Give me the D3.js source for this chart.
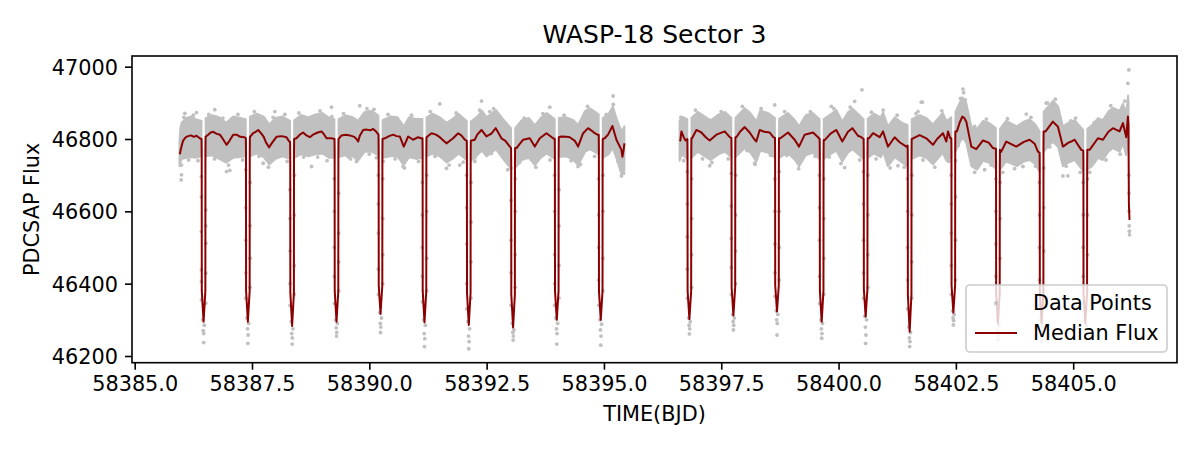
<!DOCTYPE html>
<html><head><meta charset="utf-8">
<script src="https://cdn.jsdelivr.net/npm/d3@7"></script>
<style>
body{margin:0;background:#fff}
svg{display:block}
text{font-family:"DejaVu Sans",sans-serif;fill:#000}
</style>
</head><body>
<svg id="c" width="1200" height="450"></svg>
<script>
// ---------------- data ----------------
const titleText = "WASP-18 Sector 3";
const xLabelText = "TIME(BJD)";
const yLabelText = "PDCSAP Flux";
const xTickValues = [58385.0, 58387.5, 58390.0, 58392.5, 58395.0, 58397.5, 58400.0, 58402.5, 58405.0];
const yTickValues = [46200, 46400, 46600, 46800, 47000];
const legendLabels = ["Data Points", "Median Flux"];

// median flux line [time, flux]; null marks the data gap
const medianFlux = [
[58385.963,46758],[58385.980,46770],[58385.998,46779],[58386.030,46795],[58386.069,46802],[58386.100,46806],[58386.140,46808],[58386.200,46810],[58386.260,46806],[58386.318,46809],[58386.360,46805],[58386.400,46801],
[58386.425,46800],[58386.428,46760],[58386.430,46380],[58386.468,46295],[58386.506,46380],[58386.508,46770],[58386.511,46806],
[58386.566,46812],[58386.620,46818],[58386.673,46820],[58386.740,46815],[58386.815,46812],[58386.880,46800],[58386.957,46784],[58387.020,46795],[58387.099,46812],[58387.170,46812],[58387.250,46806],[58387.340,46805],
[58387.369,46802],[58387.372,46762],[58387.374,46380],[58387.412,46295],[58387.450,46380],[58387.452,46765],[58387.455,46805],
[58387.525,46816],[58387.580,46820],[58387.632,46825],[58387.700,46815],[58387.750,46806],[58387.800,46790],[58387.866,46777],[58387.930,46790],[58388.022,46806],[58388.130,46808],[58388.235,46805],[58388.292,46793],
[58388.312,46792],[58388.315,46752],[58388.317,46375],[58388.355,46283],[58388.393,46375],[58388.395,46760],[58388.398,46800],
[58388.448,46802],[58388.520,46812],[58388.590,46818],[58388.660,46810],[58388.732,46805],[58388.800,46812],[58388.900,46818],[58388.981,46821],[58389.040,46812],[58389.087,46802],[58389.194,46802],
[58389.258,46800],[58389.261,46760],[58389.263,46380],[58389.301,46295],[58389.339,46380],[58389.341,46760],[58389.344,46800],
[58389.407,46810],[58389.500,46812],[58389.585,46810],[58389.680,46806],[58389.727,46800],[58389.762,46793],[58389.800,46810],[58389.869,46825],[58389.950,46826],[58390.020,46824],[58390.082,46828],[58390.150,46820],
[58390.196,46812],[58390.199,46772],[58390.201,46395],[58390.239,46316],[58390.277,46395],[58390.279,46760],[58390.282,46800],
[58390.331,46802],[58390.420,46808],[58390.508,46812],[58390.580,46808],[58390.650,46807],[58390.735,46779],[58390.828,46807],[58390.934,46798],[58391.041,46805],[58391.100,46802],
[58391.133,46802],[58391.136,46762],[58391.138,46380],[58391.176,46293],[58391.214,46380],[58391.216,46765],[58391.219,46805],
[58391.325,46816],[58391.420,46812],[58391.502,46805],[58391.644,46788],[58391.786,46802],[58391.893,46816],[58391.960,46810],[58392.035,46798],
[58392.077,46795],[58392.080,46755],[58392.082,46375],[58392.120,46286],[58392.158,46375],[58392.160,46755],[58392.163,46795],
[58392.248,46798],[58392.300,46812],[58392.390,46825],[58392.496,46807],[58392.600,46815],[58392.695,46830],[58392.816,46802],[58392.900,46795],[58392.994,46779],
[58393.021,46775],[58393.024,46735],[58393.026,46370],[58393.064,46279],[58393.102,46370],[58393.104,46735],[58393.107,46775],
[58393.136,46775],[58393.278,46798],[58393.420,46802],[58393.526,46779],[58393.633,46802],[58393.775,46816],[58393.917,46802],
[58393.952,46800],[58393.955,46760],[58393.957,46380],[58393.995,46300],[58394.033,46380],[58394.035,46765],[58394.038,46805],
[58394.094,46807],[58394.200,46806],[58394.272,46805],[58394.380,46795],[58394.449,46779],[58394.556,46816],[58394.662,46830],[58394.750,46822],[58394.804,46816],[58394.860,46812],
[58394.889,46812],[58394.892,46772],[58394.894,46380],[58394.932,46300],[58394.970,46380],[58394.972,46760],[58394.975,46800],
[58395.017,46802],[58395.088,46812],[58395.181,46836],[58395.266,46798],[58395.372,46770],[58395.394,46751],[58395.420,46770],[58395.436,46788],
null,
[58396.615,46798],[58396.629,46796],[58396.651,46821],[58396.700,46805],[58396.740,46796],
[58396.778,46800],[58396.781,46760],[58396.783,46380],[58396.821,46302],[58396.859,46380],[58396.861,46762],[58396.864,46802],
[58396.878,46802],[58396.970,46825],[58397.077,46818],[58397.170,46805],[58397.254,46796],[58397.396,46812],[58397.574,46821],[58397.680,46805],
[58397.716,46803],[58397.719,46763],[58397.721,46390],[58397.759,46312],[58397.797,46390],[58397.799,46765],[58397.802,46805],
[58397.822,46805],[58397.900,46820],[58398.000,46833],[58398.106,46818],[58398.200,46800],[58398.248,46793],[58398.319,46825],[58398.420,46820],[58398.532,46818],[58398.610,46805],
[58398.645,46803],[58398.648,46763],[58398.650,46395],[58398.688,46323],[58398.726,46395],[58398.728,46762],[58398.731,46802],
[58398.760,46802],[58398.923,46818],[58399.065,46798],[58399.157,46779],[58399.278,46812],[58399.456,46818],[58399.562,46805],
[58399.597,46800],[58399.600,46760],[58399.602,46380],[58399.640,46295],[58399.678,46380],[58399.680,46757],[58399.683,46797],
[58399.704,46797],[58399.830,46815],[58399.953,46825],[58400.080,46793],[58400.200,46820],[58400.294,46830],[58400.414,46809],[58400.485,46805],
[58400.534,46800],[58400.537,46760],[58400.539,46385],[58400.577,46309],[58400.615,46385],[58400.617,46762],[58400.620,46802],
[58400.649,46802],[58400.734,46816],[58400.876,46805],[58400.947,46821],[58401.053,46779],[58401.195,46805],[58401.302,46791],[58401.444,46779],
[58401.472,46782],[58401.475,46742],[58401.477,46370],[58401.515,46267],[58401.553,46370],[58401.555,46760],[58401.558,46800],
[58401.586,46802],[58401.728,46811],[58401.870,46802],[58402.012,46784],[58402.100,46800],[58402.225,46816],[58402.296,46793],[58402.332,46821],[58402.380,46802],
[58402.403,46802],[58402.406,46762],[58402.408,46395],[58402.446,46320],[58402.484,46395],[58402.486,46780],[58402.489,46821],
[58402.523,46821],[58402.580,46845],[58402.637,46862],[58402.680,46858],[58402.722,46848],[58402.829,46779],[58402.935,46772],[58403.077,46796],[58403.200,46790],[58403.290,46775],
[58403.353,46773],[58403.356,46733],[58403.358,46375],[58403.396,46290],[58403.434,46375],[58403.436,46730],[58403.439,46770],
[58403.468,46765],[58403.574,46793],[58403.787,46779],[58403.950,46792],[58404.071,46798],[58404.178,46787],[58404.249,46765],
[58404.284,46762],[58404.287,46722],[58404.289,46375],[58404.327,46290],[58404.365,46375],[58404.367,46780],[58404.370,46821],
[58404.412,46821],[58404.568,46848],[58404.675,46834],[58404.781,46779],[58404.900,46790],[58404.959,46793],[58405.030,46798],[58405.172,46770],
[58405.215,46768],[58405.218,46728],[58405.220,46375],[58405.258,46290],[58405.296,46375],[58405.298,46730],[58405.301,46770],
[58405.350,46770],[58405.527,46802],[58405.634,46798],[58405.750,46820],[58405.847,46830],[58405.989,46821],[58406.060,46844],[58406.131,46805],[58406.166,46862],[58406.178,46840],[58406.187,46620],[58406.200,46576]
];

// dense cloud of data points outside transits: [time, lower edge, upper edge]; null = break
const pointCloud = [
[58385.955,46725,46795],[58385.975,46735,46830],[58386.000,46745,46845],[58386.100,46748,46858],[58386.200,46750,46862],[58386.300,46748,46855],[58386.423,46752,46850],null,
[58386.513,46752,46858],[58386.650,46755,46866],[58386.800,46745,46860],[58386.950,46735,46845],[58387.100,46748,46862],[58387.250,46750,46858],[58387.367,46752,46855],null,
[58387.457,46752,46862],[58387.600,46760,46870],[58387.750,46750,46862],[58387.870,46730,46840],[58388.000,46745,46858],[58388.150,46752,46862],[58388.310,46745,46850],null,
[58388.400,46748,46852],[58388.550,46758,46866],[58388.700,46752,46860],[58388.850,46758,46868],[58389.000,46760,46872],[58389.150,46748,46858],[58389.256,46748,46855],null,
[58389.346,46750,46855],[58389.500,46755,46865],[58389.650,46752,46860],[58389.760,46740,46850],[58389.900,46765,46875],[58390.050,46765,46878],[58390.194,46755,46865],null,
[58390.284,46748,46852],[58390.450,46752,46862],[58390.600,46752,46860],[58390.735,46728,46835],[58390.850,46750,46860],[58391.000,46745,46855],[58391.131,46748,46855],null,
[58391.221,46752,46860],[58391.350,46760,46870],[58391.500,46752,46860],[58391.650,46735,46845],[58391.800,46748,46858],[58391.900,46760,46870],[58392.075,46742,46850],null,
[58392.165,46740,46848],[58392.300,46755,46862],[58392.400,46768,46878],[58392.500,46752,46860],[58392.700,46772,46880],[58392.850,46745,46855],[58393.019,46718,46830],null,
[58393.109,46720,46830],[58393.250,46742,46852],[58393.400,46748,46858],[58393.530,46728,46838],[58393.650,46748,46858],[58393.780,46760,46872],[58393.950,46745,46855],null,
[58394.040,46750,46858],[58394.200,46752,46860],[58394.350,46742,46852],[58394.450,46728,46838],[58394.600,46765,46878],[58394.700,46772,46885],[58394.887,46758,46868],null,
[58394.977,46748,46858],[58395.100,46758,46870],[58395.190,46775,46890],[58395.280,46742,46852],[58395.380,46700,46820],[58395.436,46715,46835],null,
[58396.612,46740,46850],[58396.660,46758,46862],[58396.776,46745,46855],null,
[58396.866,46748,46858],[58397.000,46765,46875],[58397.150,46752,46862],[58397.270,46742,46852],[58397.450,46758,46868],[58397.580,46765,46875],[58397.714,46750,46858],null,
[58397.804,46750,46858],[58398.000,46775,46885],[58398.120,46762,46872],[58398.250,46738,46848],[58398.330,46768,46878],[58398.500,46762,46872],[58398.643,46748,46858],null,
[58398.733,46748,46856],[58398.920,46762,46872],[58399.070,46742,46852],[58399.160,46725,46835],[58399.300,46755,46866],[58399.450,46762,46872],[58399.595,46745,46855],null,
[58399.685,46745,46855],[58399.830,46758,46868],[58399.950,46768,46880],[58400.080,46738,46848],[58400.200,46762,46874],[58400.300,46772,46884],[58400.532,46745,46855],null,
[58400.622,46748,46856],[58400.750,46760,46870],[58400.900,46750,46860],[58400.950,46765,46874],[58401.050,46725,46835],[58401.200,46750,46860],[58401.350,46735,46845],[58401.470,46725,46838],null,
[58401.560,46745,46855],[58401.730,46755,46866],[58401.870,46748,46858],[58402.010,46730,46840],[58402.220,46762,46872],[58402.300,46740,46850],[58402.401,46748,46860],null,
[58402.491,46765,46875],[58402.580,46790,46900],[58402.640,46805,46915],[58402.720,46790,46900],[58402.830,46725,46835],[58402.950,46715,46828],[58403.080,46740,46850],[58403.200,46735,46845],[58403.351,46718,46830],null,
[58403.441,46715,46828],[58403.570,46738,46850],[58403.800,46725,46835],[58403.950,46738,46848],[58404.070,46742,46854],[58404.180,46732,46842],[58404.282,46710,46822],null,
[58404.372,46765,46875],[58404.500,46785,46895],[58404.570,46792,46905],[58404.680,46778,46890],[58404.780,46725,46835],[58404.900,46735,46845],[58405.030,46742,46852],[58405.213,46712,46825],null,
[58405.303,46715,46828],[58405.400,46725,46838],[58405.530,46748,46858],[58405.630,46742,46852],[58405.750,46765,46876],[58405.850,46775,46886],[58405.990,46765,46878],[58406.060,46788,46898],[58406.130,46755,46870],[58406.170,46800,46920],[58406.180,46790,46900]
];

// mid-transit times read from the dips
const transitTimes = [58386.468,58387.412,58388.355,58389.301,58390.239,58391.176,58392.120,58393.064,58393.995,58394.932,
58396.821,58397.759,58398.688,58399.640,58400.577,58401.515,58402.446,58403.396,58404.327,58405.258];

// in-transit data points per transit: [offset from mid-transit (days), flux]
const transitPoints = [
[[-0.047,46696],[-0.047,46640],[-0.046,46544],[-0.046,46438],[-0.046,46406],[-0.045,46355],[0.048,46604],[0.048,46560],[0.048,46512],[0.047,46429],[0.046,46346],[-0.02,46300],[-0.008,46270],[0.004,46262],[0.015,46285],[0.002,46237]],
[[-0.047,46715],[-0.046,46610],[-0.046,46520],[-0.045,46430],[-0.045,46360],[0.048,46680],[0.048,46560],[0.047,46470],[0.046,46390],[-0.018,46305],[-0.006,46275],[0.006,46258],[0.018,46290],[0.0,46235]],
[[-0.047,46660],[-0.046,46580],[-0.046,46490],[-0.045,46400],[-0.044,46340],[0.048,46700],[0.048,46590],[0.047,46450],[0.046,46370],[-0.02,46295],[-0.008,46262],[0.004,46250],[0.016,46275],[0.001,46233]],
[[-0.047,46690],[-0.046,46600],[-0.046,46500],[-0.045,46420],[-0.044,46345],[0.048,46650],[0.047,46540],[0.047,46460],[0.046,46380],[-0.018,46300],[-0.006,46278],[0.006,46265],[0.018,46290],[0.0,46255]],
[[-0.047,46700],[-0.046,46620],[-0.046,46540],[-0.045,46440],[-0.044,46370],[0.048,46690],[0.048,46580],[0.047,46480],[0.046,46400],[-0.018,46320],[-0.006,46290],[0.006,46280],[0.018,46305],[0.0,46265]],
[[-0.047,46680],[-0.046,46590],[-0.046,46500],[-0.045,46420],[-0.044,46350],[0.048,46700],[0.048,46600],[0.047,46470],[0.046,46380],[-0.018,46300],[-0.006,46262],[0.006,46248],[0.018,46285],[0.0,46226]],
[[-0.047,46700],[-0.046,46610],[-0.046,46510],[-0.045,46400],[-0.044,46330],[0.048,46680],[0.048,46570],[0.047,46460],[0.046,46360],[-0.018,46295],[-0.006,46255],[0.006,46240],[0.018,46275],[0.0,46220]],
[[-0.047,46720],[-0.046,46630],[-0.046,46520],[-0.045,46430],[-0.044,46340],[0.048,46690],[0.048,46600],[0.047,46480],[0.046,46390],[-0.018,46290],[-0.006,46265],[0.006,46255],[0.018,46272],[0.0,46244]],
[[-0.047,46700],[-0.046,46600],[-0.046,46480],[-0.045,46400],[-0.044,46340],[0.048,46660],[0.048,46560],[0.047,46450],[0.046,46360],[-0.018,46305],[-0.006,46275],[0.006,46262],[0.018,46290],[0.0,46233]],
[[-0.047,46690],[-0.046,46590],[-0.046,46500],[-0.045,46410],[-0.044,46340],[0.048,46700],[0.048,46600],[0.047,46470],[0.046,46380],[-0.018,46300],[-0.006,46272],[0.006,46255],[0.018,46288],[0.0,46230]],
[[-0.047,46710],[-0.046,46620],[-0.046,46530],[-0.045,46440],[-0.044,46360],[0.048,46690],[0.048,46580],[0.047,46480],[0.046,46390],[-0.018,46305],[-0.006,46285],[0.006,46275],[0.018,46295],[0.0,46261]],
[[-0.047,46705],[-0.046,46615],[-0.046,46525],[-0.045,46445],[-0.044,46370],[0.048,46700],[0.048,46590],[0.047,46490],[0.046,46400],[-0.018,46315],[-0.006,46295],[0.006,46285],[0.018,46305],[0.0,46272]],
[[-0.047,46690],[-0.046,46600],[-0.046,46510],[-0.045,46430],[-0.044,46365],[0.048,46710],[0.048,46600],[0.047,46500],[0.046,46410],[-0.018,46325],[-0.006,46300],[0.006,46290],[0.018,46315],[0.0,46258]],
[[-0.047,46700],[-0.046,46610],[-0.046,46520],[-0.045,46420],[-0.044,46345],[0.048,46690],[0.048,46580],[0.047,46470],[0.046,46370],[-0.018,46300],[-0.006,46275],[0.006,46262],[0.018,46290],[0.0,46249]],
[[-0.047,46710],[-0.046,46620],[-0.046,46520],[-0.045,46430],[-0.044,46360],[0.048,46700],[0.048,46590],[0.047,46480],[0.046,46390],[-0.018,46310],[-0.006,46280],[0.006,46258],[0.018,46300],[0.0,46235]],
[[-0.047,46690],[-0.046,46600],[-0.046,46500],[-0.045,46410],[-0.044,46330],[0.048,46700],[0.048,46590],[0.047,46460],[0.046,46360],[-0.018,46280],[-0.006,46250],[0.006,46240],[0.018,46265],[0.0,46226]],
[[-0.047,46700],[-0.046,46620],[-0.046,46540],[-0.045,46450],[-0.044,46370],[0.048,46740],[0.048,46640],[0.047,46520],[0.046,46410],[-0.018,46325],[-0.006,46305],[0.006,46298],[0.018,46315],[0.0,46286]],
[[-0.047,46690],[-0.046,46600],[-0.046,46510],[-0.045,46420],[-0.044,46340],[0.048,46680],[0.048,46580],[0.047,46470],[0.046,46370],[-0.018,46300],[-0.006,46270],[0.006,46258],[0.018,46285],[0.0,46245]],
[[-0.047,46680],[-0.046,46590],[-0.046,46500],[-0.045,46410],[-0.044,46340],[0.048,46720],[0.048,46610],[0.047,46490],[0.046,46380],[-0.018,46300],[-0.006,46268],[0.006,46255],[0.018,46282],[0.0,46240]],
[[-0.047,46680],[-0.046,46590],[-0.046,46500],[-0.045,46420],[-0.044,46345],[0.048,46690],[0.048,46590],[0.047,46480],[0.046,46380],[-0.018,46298],[-0.006,46270],[0.006,46260],[0.018,46285],[0.0,46245]]
];

// scattered individual points (outliers, end of sector partial transit)
const loosePoints = [
[58385.998,46728],[58385.998,46701],[58385.990,46687],[58386.069,46871],[58386.318,46873],[58386.708,46881],[58386.957,46710],[58387.028,46713],[58387.987,46876],[58387.738,46733],
[58388.768,46724],[58389.194,46888],[58389.797,46892],[58389.549,46751],[58389.727,46738],[58390.295,46738],[58390.721,46724],[58391.502,46897],[58391.644,46719],[58391.928,46728],
[58392.248,46738],[58392.390,46905],[58392.567,46876],[58393.846,46888],[58394.449,46724],[58395.195,46919],[58395.372,46698],[58395.400,46710],[58397.254,46726],[58398.213,46733],
[58398.639,46894],[58399.846,46890],[58400.130,46721],[58400.343,46904],[58400.499,46936],[58401.266,46726],[58401.692,46876],[58401.763,46902],[58401.785,46902],[58402.651,46938],
[58402.665,46928],[58403.113,46715],[58403.929,46724],[58404.000,46869],[58404.426,46899],[58404.781,46698],[58404.888,46698],[58405.051,46858],[58406.166,46954],[58406.187,46991],
[58406.187,46700],[58406.190,46650],[58406.192,46600],[58406.195,46560],[58406.198,46545],[58406.200,46535]
];

// points sitting just outside the dense cloud edges
const edgePoints = [
[58386.05,46860],[58386.25,46866],[58386.15,46742],[58386.35,46740],
[58386.58,46868],[58386.88,46858],[58387.2,46868],[58386.7,46745],[58387.0,46728],[58387.3,46742],
[58387.55,46876],[58387.95,46860],[58388.2,46868],[58387.65,46752],[58387.85,46722],[58388.25,46738],
[58388.5,46872],[58388.95,46878],[58389.2,46862],[58388.6,46750],[58388.9,46750],[58389.1,46740],
[58389.45,46870],[58389.95,46884],[58390.1,46882],[58389.6,46745],[58390.0,46758],[58390.15,46748],
[58390.4,46868],[58390.9,46866],[58390.55,46745],[58390.75,46720],[58391.05,46738],
[58391.3,46876],[58391.85,46872],[58391.4,46752],[58391.7,46728],[58392.0,46736],
[58392.35,46880],[58392.65,46884],[58392.25,46748],[58392.6,46760],[58392.95,46715],
[58393.3,46858],[58393.7,46870],[58393.2,46735],[58393.55,46722],[58393.85,46742],
[58394.15,46866],[58394.65,46890],[58394.3,46740],[58394.5,46730],[58394.8,46752],
[58395.05,46868],[58395.2,46896],[58395.3,46738],[58395.42,46705],
[58396.64,46860],[58396.7,46740],
[58396.95,46880],[58397.5,46876],[58397.1,46745],[58397.3,46735],[58397.65,46745],
[58397.95,46890],[58398.35,46884],[58398.05,46768],[58398.22,46730],[58398.55,46755],
[58398.85,46876],[58399.4,46876],[58398.9,46755],[58399.15,46718],[58399.5,46752],
[58399.9,46884],[58400.25,46888],[58399.8,46750],[58400.05,46732],[58400.45,46742],
[58400.7,46874],[58400.95,46880],[58401.25,46866],[58400.8,46745],[58401.1,46720],[58401.4,46722],
[58401.65,46870],[58402.2,46878],[58401.8,46742],[58402.05,46722],[58402.35,46738],
[58402.6,46912],[58402.7,46908],[58402.9,46835],[58403.15,46855],[58402.55,46782],[58402.9,46708],[58403.25,46728],
[58403.6,46856],[58404.1,46860],[58403.5,46708],[58403.75,46718],[58404.2,46725],
[58404.45,46900],[58404.62,46910],[58404.95,46850],[58404.5,46778],[58404.85,46725],[58405.15,46708],
[58405.45,46845],[58405.8,46892],[58406.1,46905],[58405.35,46708],[58405.7,46742],[58406.0,46758]
];

// ---------------- drawing ----------------
const plot = {left: 132, right: 1177, top: 56, bottom: 362.7};
const svg = d3.select("#c");
const FS = 20.8;

const allT = [], allF = [];
medianFlux.forEach(d => { if (d) { allT.push(d[0]); allF.push(d[1]); } });
pointCloud.forEach(d => { if (d) { allT.push(d[0]); allF.push(d[1], d[2]); } });
transitPoints.forEach((arr, i) => arr.forEach(p => { allT.push(transitTimes[i] + p[0]); allF.push(p[1]); }));
loosePoints.concat(edgePoints).forEach(d => { allT.push(d[0]); allF.push(d[1]); });
const [tMin, tMax] = d3.extent(allT);
const [fMin, fMax] = d3.extent(allF);
const tPad = (tMax - tMin) * 0.05, fPad = (fMax - fMin) * 0.05;

const x = d3.scaleLinear().domain([tMin - tPad, tMax + tPad]).range([plot.left, plot.right]);
const y = d3.scaleLinear().domain([fMin - fPad, fMax + fPad]).range([plot.bottom, plot.top]);

const grey = "#c0c0c0";
const dark = "#8b0000";

svg.append("defs").append("clipPath").attr("id", "clip")
  .append("rect").attr("x", plot.left).attr("y", plot.top)
  .attr("width", plot.right - plot.left).attr("height", plot.bottom - plot.top);

const g = svg.append("g").attr("clip-path", "url(#clip)");

const cloudArea = d3.area().defined(d => d !== null)
  .x(d => x(d[0])).y0(d => y(d[1])).y1(d => y(d[2]));
g.append("path").datum(pointCloud).attr("d", cloudArea)
  .attr("fill", grey).attr("stroke", grey).attr("stroke-width", 2).attr("stroke-linejoin", "round");

const tp = [];
transitPoints.forEach((arr, i) => arr.forEach(p => tp.push([transitTimes[i] + p[0], p[1]])));
g.append("g").selectAll("circle").data(tp.concat(loosePoints, edgePoints)).join("circle")
  .attr("cx", d => x(d[0])).attr("cy", d => y(d[1])).attr("r", 1.9).attr("fill", grey);

const line = d3.line().defined(d => d !== null).x(d => x(d[0])).y(d => y(d[1]));
g.append("path").datum(medianFlux).attr("d", line)
  .attr("fill", "none").attr("stroke", dark).attr("stroke-width", 2).attr("stroke-linejoin", "round");

const xAxis = d3.axisBottom(x).tickValues(xTickValues).tickFormat(d3.format(".1f")).tickSizeOuter(0).tickSize(7).tickPadding(6);
const gx = svg.append("g").attr("transform", `translate(0,${plot.bottom})`).call(xAxis);
const yAxis = d3.axisLeft(y).tickValues(yTickValues).tickFormat(d3.format("d")).tickSizeOuter(0).tickSize(7).tickPadding(7);
const gy = svg.append("g").attr("transform", `translate(${plot.left},0)`).call(yAxis);
[gx, gy].forEach(a => {
  a.select(".domain").remove();
  a.selectAll(".tick line").attr("stroke", "#000").attr("stroke-width", 1.6);
  a.selectAll(".tick text").attr("font-size", FS).attr("font-family", "DejaVu Sans").attr("fill", "#000");
});
gx.selectAll(".tick text").attr("dy", "0.74em");
gy.selectAll(".tick text").attr("dy", "0.36em");

svg.append("rect").attr("x", plot.left).attr("y", plot.top)
  .attr("width", plot.right - plot.left).attr("height", plot.bottom - plot.top)
  .attr("fill", "none").attr("stroke", "#000").attr("stroke-width", 1.6);

const cx = (plot.left + plot.right) / 2;
svg.append("text").attr("x", cx).attr("y", 43).attr("text-anchor", "middle").attr("font-size", 25).text(titleText);
svg.append("text").attr("x", cx).attr("y", 421).attr("text-anchor", "middle").attr("font-size", FS).text(xLabelText);
svg.append("text").attr("transform", `translate(38.5,${(plot.top + plot.bottom) / 2}) rotate(-90)`)
  .attr("text-anchor", "middle").attr("font-size", FS).text(yLabelText);

const lg = svg.append("g");
lg.append("rect").attr("x", 966).attr("y", 285).attr("width", 201).attr("height", 67).attr("rx", 4)
  .attr("fill", "#fff").attr("fill-opacity", 0.8).attr("stroke", "#cccccc").attr("stroke-width", 1.6);
lg.append("circle").attr("cx", 996).attr("cy", 303).attr("r", 1.9).attr("fill", grey);
lg.append("line").attr("x1", 975).attr("x2", 1017).attr("y1", 333).attr("y2", 333).attr("stroke", dark).attr("stroke-width", 2);
lg.append("text").attr("x", 1033).attr("y", 309.5).attr("font-size", FS).text(legendLabels[0]);
lg.append("text").attr("x", 1033).attr("y", 339.5).attr("font-size", FS).text(legendLabels[1]);
</script>
</body></html>
